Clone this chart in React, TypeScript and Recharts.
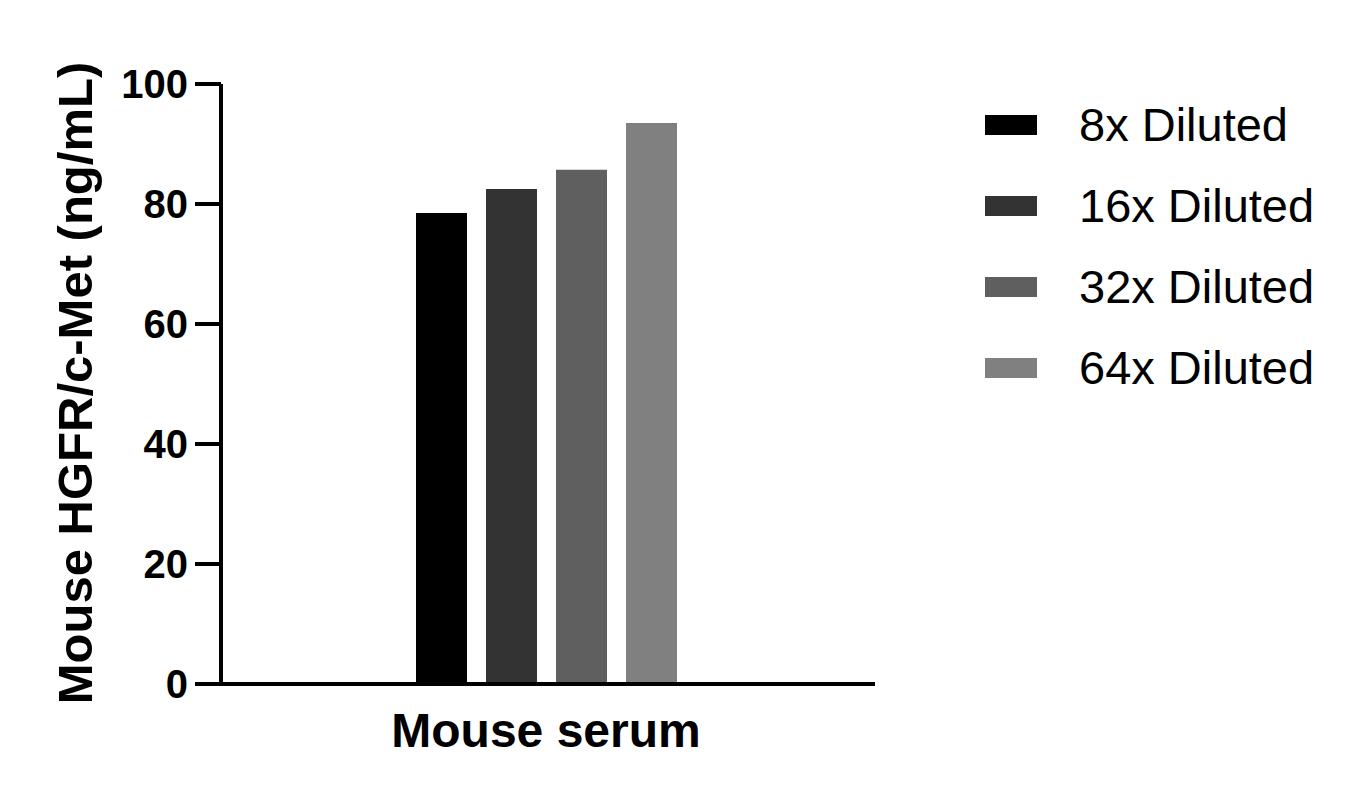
import React from 'react';
import { BarChart, Bar, XAxis, YAxis, Legend, Label } from 'recharts';

const categories = ['Mouse serum'];
const seriesNames = ['8x Diluted', '16x Diluted', '32x Diluted', '64x Diluted'];
const seriesValues = [78.5, 82.5, 85.7, 93.5];
const seriesColors = ['#000000', '#333333', '#5f5f5f', '#808080'];
const yTicks = [0, 20, 40, 60, 80, 100];
const yLabel = 'Mouse HGFR/c-Met (ng/mL)';

const data = categories.map((name) => {
  const row: Record<string, string | number> = { name };
  seriesNames.forEach((s, i) => {
    row[s] = seriesValues[i];
  });
  return row;
});

const FONT = '"Liberation Sans", Arial, sans-serif';

const renderLegend = () => (
  <div style={{ fontFamily: FONT }}>
    {seriesNames.map((s, i) => (
      <div key={s} style={{ display: 'flex', alignItems: 'center', height: 81 }}>
        <div style={{ width: 52, height: 20, background: seriesColors[i], marginRight: 42 }} />
        <span style={{ fontSize: 47, color: '#000', lineHeight: '47px' }}>{s}</span>
      </div>
    ))}
  </div>
);

const renderYLabel = (props: any) => {
  const vb = props.viewBox || { x: 0, y: 84, width: 221, height: 600 };
  const cx = vb.x + 75;
  const cy = vb.y + vb.height / 2 - 1;
  return (
    <text
      x={cx}
      y={cy}
      transform={`rotate(-90 ${cx} ${cy})`}
      textAnchor="middle"
      dominantBaseline="central"
      fontFamily={FONT}
      fontWeight="bold"
      fontSize={49}
      fill="#000"
    >
      {yLabel}
    </text>
  );
};

export default function App() {
  return (
    <div style={{ position: 'absolute', left: 0, top: 0, width: 1361, height: 804, background: '#fff' }}>
      <BarChart
        width={1361}
        height={804}
        data={data}
        margin={{ top: 84, right: 486, bottom: 0, left: 0 }}
        barGap={19}
      >
        <XAxis
          dataKey="name"
          height={120}
          padding={{ left: 0, right: 4 }}
          tickLine={false}
          tickSize={0}
          tickMargin={29}
          axisLine={{ stroke: '#000', strokeWidth: 4 }}
          tick={{ fontSize: 48, fontWeight: 'bold', fill: '#000', fontFamily: FONT }}
        />
        <YAxis
          width={221}
          domain={[0, 100]}
          ticks={yTicks}
          interval={0}
          tickSize={26}
          tickMargin={7}
          axisLine={{ stroke: '#000', strokeWidth: 4 }}
          tickLine={{ stroke: '#000', strokeWidth: 4 }}
          tick={{ fontSize: 40, fontWeight: 'bold', fill: '#000', fontFamily: FONT }}
        >
          <Label content={renderYLabel} />
        </YAxis>
        <Legend
          layout="vertical"
          align="center"
          verticalAlign="middle"
          content={renderLegend}
          wrapperStyle={{ left: 985, top: 84, width: 376, height: 330 }}
        />
        {seriesNames.map((s, i) => (
          <Bar key={s} dataKey={s} fill={seriesColors[i]} barSize={51} isAnimationActive={false} />
        ))}
      </BarChart>
    </div>
  );
}
